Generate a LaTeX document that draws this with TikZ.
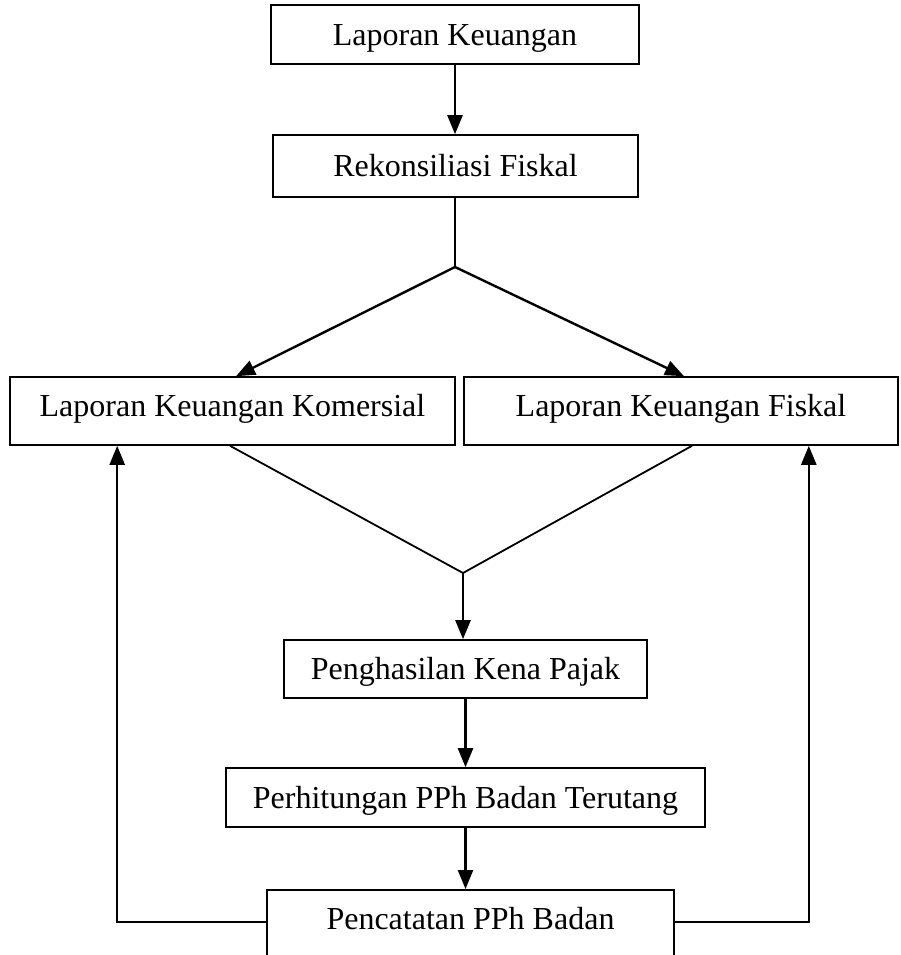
\documentclass[tikz,border=0pt]{standalone}
\usepackage{fontspec}
\setmainfont{Liberation Serif}
\usetikzlibrary{arrows.meta,calc}
\tikzset{
  box/.style={draw, line width=1.6pt, inner sep=0pt, text height=21.5pt, text depth=0pt, font=\fontsize{32}{38}\selectfont},
  txt/.style={inner sep=0pt, text height=21.5pt, text depth=0pt, font=\fontsize{32}{38}\selectfont},
  arr/.style={line width=2.4pt, -{Triangle[width=15pt,length=19pt]}},
  ln/.style={line width=1.8pt}
}
\begin{document}
\begin{tikzpicture}[x=1pt,y=-1pt]
\useasboundingbox (0,0) rectangle (901,955);
\clip (0,0) rectangle (901,955);
\node[box, minimum width=368pt, minimum height=59pt] (lk) at (455,34.5) {Laporan Keuangan};
\node[box, minimum width=365pt, minimum height=62pt] (rf) at (455.5,166) {Rekonsiliasi Fiskal};
\node[box, text depth=10pt, minimum width=445pt, minimum height=68pt] (kom) at (232.5,411) {Laporan Keuangan Komersial};
\node[box, text depth=10pt, minimum width=434pt, minimum height=68pt] (fis) at (681,411) {Laporan Keuangan Fiskal};
\node[box, minimum width=363pt, minimum height=58pt] (pkp) at (465.5,669) {Penghasilan Kena Pajak};
\node[box, minimum width=479pt, minimum height=59pt] (pph) at (465.5,797.5) {Perhitungan PPh Badan Terutang};
\node[box, minimum width=407pt, minimum height=120pt, anchor=north] (pen) at (470.5,889) {};
\node[txt] (pent) at (470.5,919) {Pencatatan PPh Badan};
\coordinate (j1) at (455,267);
\coordinate (j2) at (463,573);
\draw[arr] (lk.south) -- (lk.south |- rf.north);
\draw[ln] (j1 |- rf.south) -- (j1);
\draw[arr] (j1) -- ([xshift=3.5pt]kom.north);
\draw[arr] (j1) -- ([xshift=3pt]fis.north);
\draw[ln] ([xshift=-2.5pt]kom.south) -- (j2);
\draw[ln] ([xshift=11pt]fis.south) -- (j2);
\draw[arr] (j2) -- (j2 |- pkp.north);
\draw[arr] (pkp.south) -- (pkp.south |- pph.north);
\draw[arr] (pph.south) -- (pph.south |- pen.north);
\draw[arr] ([yshift=-3pt]pen.west |- pent.center) -| ([xshift=108pt]kom.south west);
\draw[arr] ([yshift=-3pt]pen.east |- pent.center) -| ([xshift=-90pt]fis.south east);
\end{tikzpicture}
\end{document}
